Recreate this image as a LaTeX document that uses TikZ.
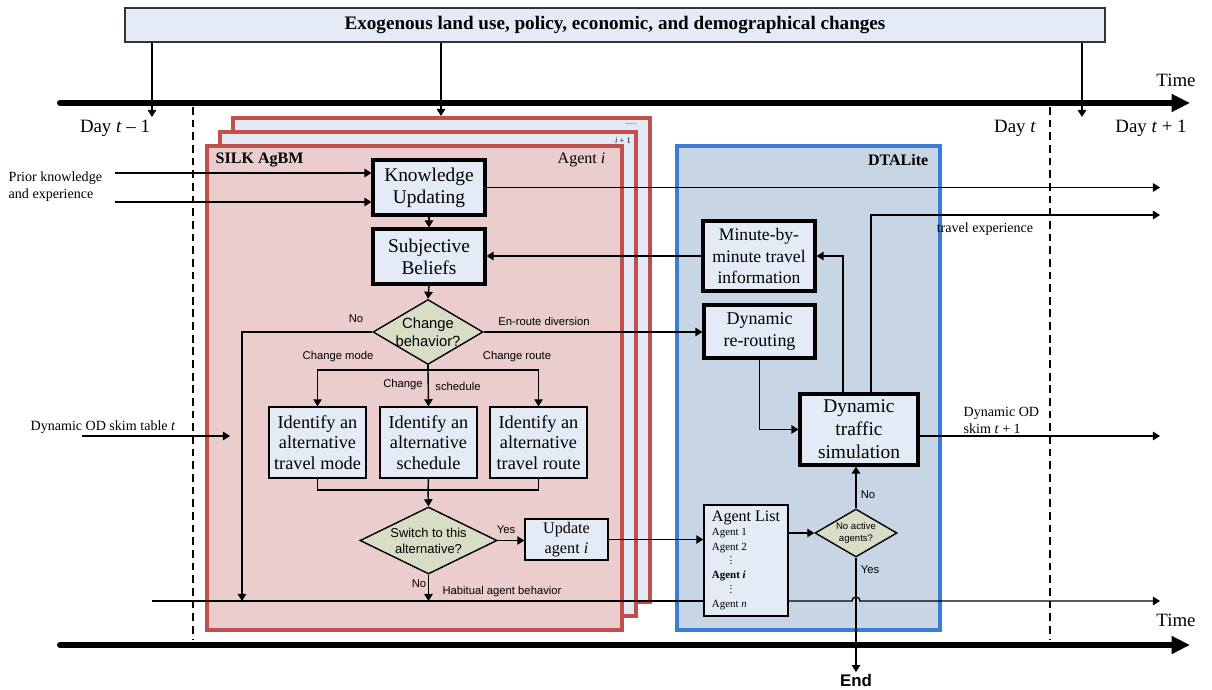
\documentclass[tikz,border=0pt]{standalone}
\usepackage{fontspec}
\setmainfont{Liberation Serif}
\newfontfamily\sansf{Liberation Sans}
\usetikzlibrary{arrows.meta,shapes.geometric,calc}
\definecolor{boxblue}{RGB}{229,235,246}
\definecolor{agentred}{RGB}{192,80,77}
\definecolor{agentpink}{RGB}{236,205,205}
\definecolor{agentback}{RGB}{226,233,245}
\definecolor{dtafill}{RGB}{200,213,229}
\definecolor{dtaline}{RGB}{58,125,214}
\definecolor{decfill}{RGB}{216,222,198}
\newcommand\smalldots{\hspace*{4.4mm}\vbox{\baselineskip=2.4pt\lineskiplimit=0pt\hbox{.}\hbox{.}\hbox{.}}}
\tikzset{
  arr/.style={line width=1pt,-{Triangle[length=5pt,width=6pt]}},
  ln/.style={line width=1pt},
  thickbox/.style={draw,line width=2.2pt,fill=boxblue,align=center,inner sep=1pt,font=\fontsize{13}{15}\selectfont},
  thinbox/.style={draw,line width=1pt,fill=boxblue,align=center,inner sep=1pt,font=\fontsize{13}{14.6}\selectfont},
  decision/.style={diamond,draw,line width=1pt,fill=decfill,align=center,inner sep=-3pt},
  tlabel/.style={font=\sansf\fontsize{8}{9.6}\selectfont,inner sep=1pt},
  slabel/.style={font=\fontsize{10}{12}\selectfont,inner sep=1pt},
  daylabel/.style={font=\fontsize{13.4}{16}\selectfont,inner sep=1pt},
  boxtitle/.style={font=\fontsize{11.4}{13}\selectfont,inner sep=1pt},
  timeax/.style={line width=4.3pt,line cap=round,-{Triangle[length=13pt,width=12pt]}},
  dayline/.style={line width=0.9pt,dash pattern=on 5.5pt off 3.5pt},
  agentframe/.style={draw=agentred,line width=2.6pt},
}
\begin{document}
\begin{tikzpicture}[x=0.025cm,y=-0.025cm]
\useasboundingbox (0,0) rectangle (1212,690);
% time axes
\coordinate (ta0) at (60,103); \coordinate (ta1) at (1190,103);
\coordinate (tb0) at (60,645); \coordinate (tb1) at (1190,645);
\draw[timeax] (ta0) -- (ta1);
\draw[timeax] (tb0) -- (tb1);
\draw[dayline] (193,107) -- (193,640);
\draw[dayline] (1050,107) -- (1050,640);
\node[daylabel] (time1) at (1176,80) {Time};
\node[daylabel] (time2) at (1176,620) {Time};
\node[daylabel] (day0) at (115,128) {Day \textit{t} – 1};
\node[daylabel] (day1) at (1015,128) {Day \textit{t}};
\node[daylabel] (day2) at (1151,128) {Day \textit{t} + 1};

% exogenous changes
\node[draw=black!80,line width=1pt,fill=boxblue,minimum width=24.5cm,minimum height=0.85cm,
  font=\bfseries\fontsize{13.6}{16}\selectfont] (exo) at (615,25)
  {Exogenous land use, policy, economic, and demographical changes};
\coordinate (d1) at (152,117); \coordinate (d2) at (441,116); \coordinate (d3) at (1082,117);
\draw[arr] (d1 |- exo.south) -- (d1);
\draw[arr] (d2 |- exo.south) -- (d2);
\draw[arr] (d3 |- exo.south) -- (d3);

% agent stack and DTALite
\draw[agentframe,fill=agentback] (233,118) rectangle (650,602);
\draw[agentframe,fill=agentback] (220,132) rectangle (636,616);
\draw[agentframe,fill=agentpink] (207,146) rectangle (622,630);
\draw[draw=dtaline,line width=2.6pt,fill=dtafill] (677,146) rectangle (940,630);
\node[inner sep=0pt,font=\fontsize{5}{6}\selectfont] (more) at (631,124) {......};
\node[inner sep=0pt,font=\fontsize{6}{7}\selectfont] (nexti) at (623,141) {\textit{i} + 1};
\node[boxtitle,font=\bfseries\fontsize{11.4}{13}\selectfont,anchor=west] (silk) at (214,160) {SILK AgBM};
\node[boxtitle,anchor=east] (agi) at (607,160) {Agent \textit{i}};
\node[boxtitle,font=\bfseries\fontsize{11.4}{13}\selectfont,anchor=east] (dta) at (930,160) {DTALite};

% nodes
\node[thickbox,font=\fontsize{13.8}{15.8}\selectfont,minimum width=2.8cm,minimum height=1.375cm] (know) at (429,187.5) {Knowledge\\Updating};
\node[thickbox,font=\fontsize{13.8}{15.8}\selectfont,minimum width=2.8cm,minimum height=1.375cm] (subj) at (429,256.5) {Subjective\\Beliefs};
\node[decision,font=\sansf\fontsize{10.5}{12.8}\selectfont,minimum width=2.75cm,minimum height=1.625cm,shape aspect=1.7] (chg) at (428,332) {Change\\behavior?};
\node[thinbox,minimum width=2.425cm,minimum height=1.775cm] (alt1) at (317.5,442.5) {Identify an\\alternative\\travel mode};
\node[thinbox,minimum width=2.425cm,minimum height=1.775cm] (alt2) at (428.5,442.5) {Identify an\\alternative\\schedule};
\node[thinbox,minimum width=2.425cm,minimum height=1.775cm] (alt3) at (538.5,442.5) {Identify an\\alternative\\travel route};
\node[decision,font=\sansf\fontsize{9.2}{11.2}\selectfont,minimum width=3.425cm,minimum height=1.675cm,shape aspect=2] (sw) at (428.5,540.5) {Switch to this\\alternative?};
\node[thinbox,font=\fontsize{11.5}{14}\selectfont,minimum width=2.075cm,minimum height=1.025cm] (upd) at (566.5,539.5) {Update\\agent \textit{i}};
\node[thickbox,font=\fontsize{12.5}{15}\selectfont,minimum width=2.8cm,minimum height=1.75cm] (minute) at (759,256) {Minute-by-\\minute travel\\information};
\node[thickbox,font=\fontsize{12.8}{15.4}\selectfont,minimum width=2.775cm,minimum height=1.325cm] (rerout) at (759.5,331.5) {Dynamic\\re-routing};
\node[thickbox,font=\fontsize{13.8}{16.4}\selectfont,minimum width=2.95cm,minimum height=1.775cm] (sim) at (859,429.5) {Dynamic\\traffic\\simulation};
\node[thinbox,align=left,font=\fontsize{7.8}{10.2}\selectfont,minimum width=2.1cm,minimum height=2.775cm] (alist) at (746,560.5)
  {{\fontsize{11.4}{13}\selectfont Agent List}\\Agent 1\\Agent 2\\\smalldots\\\textbf{Agent \textit{i}}\\\smalldots\\Agent \textit{n}};
\node[decision,font=\sansf\fontsize{6.8}{8.2}\selectfont,minimum width=2.05cm,minimum height=1.2cm,shape aspect=1.7] (noact) at (856,533) {No active\\agents?};
\node[font=\sansf\bfseries\fontsize{12}{14}\selectfont,inner sep=1pt] (end) at (856,680) {End};

% inputs and outputs
\node[slabel,align=left,anchor=west] (prior) at (7,187) {Prior knowledge\\and experience};
\node[slabel] (odt) at (103,427) {Dynamic OD skim table \textit{t}};
\node[slabel] (trexp) at (985,229) {travel experience};
\node[slabel,align=left,anchor=west] (odn) at (962,420) {Dynamic OD\\skim \textit{t} + 1};
\coordinate (pk1) at (115,173); \coordinate (pk2) at (115,202);
\coordinate (od0) at (82,436); \coordinate (od1) at (230,436);
\coordinate (out1) at (1160,187.5); \coordinate (out2) at (1160,215); \coordinate (out3) at (1160,436);
\coordinate (hab0) at (152,601); \coordinate (hab1) at (1160,601);
\coordinate (nob) at (242,601);
\coordinate (split) at (428,370); \coordinate (merge) at (428,490);

% connectors
\draw[arr] (pk1) -- (pk1 -| know.west);
\draw[arr] (pk2) -- (pk2 -| know.west);
\draw[arr] (od0) -- (od1);
\draw[arr] (know.east) -- (out1);
\draw[arr] (know.south) -- (subj.north);
\draw[arr] (minute.west) -- (minute.west -| subj.east);
\draw[arr] (subj.south) -- (chg.north);
\draw[arr] (chg.west) -| (nob);
\draw[arr] (chg.east) -- (chg.east -| rerout.west);
\draw[ln] (chg.south) -- (split);
\draw[arr] (split) -| (alt1.north);
\draw[arr] (split) -- (alt2.north);
\draw[arr] (split) -| (alt3.north);
\draw[ln] (alt1.south) |- (merge) -| (alt3.south);
\draw[ln] (alt2.south) -- (merge);
\draw[arr] (merge) -- (sw.north);
\draw[arr] (sw.east) -- (sw.east -| upd.west);
\draw[arr] (sw.south) -- (sw.south |- nob);
\draw[arr] (upd.east) -- (upd.east -| alist.west);
\draw[ln] (hab0) -- (hab0 -| alist.west);
\draw[arr] (hab0 -| alist.east) -- ($(hab0 -| noact.south)+(-4,0)$) arc[start angle=180,end angle=360,radius=4] -- (hab1);
\draw[arr] (alist.east |- noact.west) -- (noact.west);
\draw[arr] (noact.north) -- (noact.north |- sim.south);
\draw[arr] (noact.south) -- (end.north);
\draw[arr] (rerout.south) |- (sim.west);
\draw[arr] ($(sim.north)+(-16,0)$) |- (minute.east);
\draw[arr] ($(sim.north)+(12,0)$) |- (out2);
\draw[arr] (out3 -| sim.east) -- (out3);

% branch labels
\node[tlabel] (lno1) at (356,319) {No};
\node[tlabel] (lenr) at (544,321) {En-route diversion};
\node[tlabel] (lmode) at (338,357) {Change mode};
\node[tlabel] (lroute) at (517,357) {Change route};
\node[tlabel] (lsch1) at (403,385) {Change};
\node[tlabel] (lsch2) at (458,386) {schedule};
\node[tlabel] (lyes1) at (506,530) {Yes};
\node[tlabel] (lno2) at (419,584) {No};
\node[tlabel] (lhab) at (502,592) {Habitual agent behavior};
\node[tlabel] (lno3) at (868,495) {No};
\node[tlabel] (lyes2) at (870,570) {Yes};
\end{tikzpicture}
\end{document}
